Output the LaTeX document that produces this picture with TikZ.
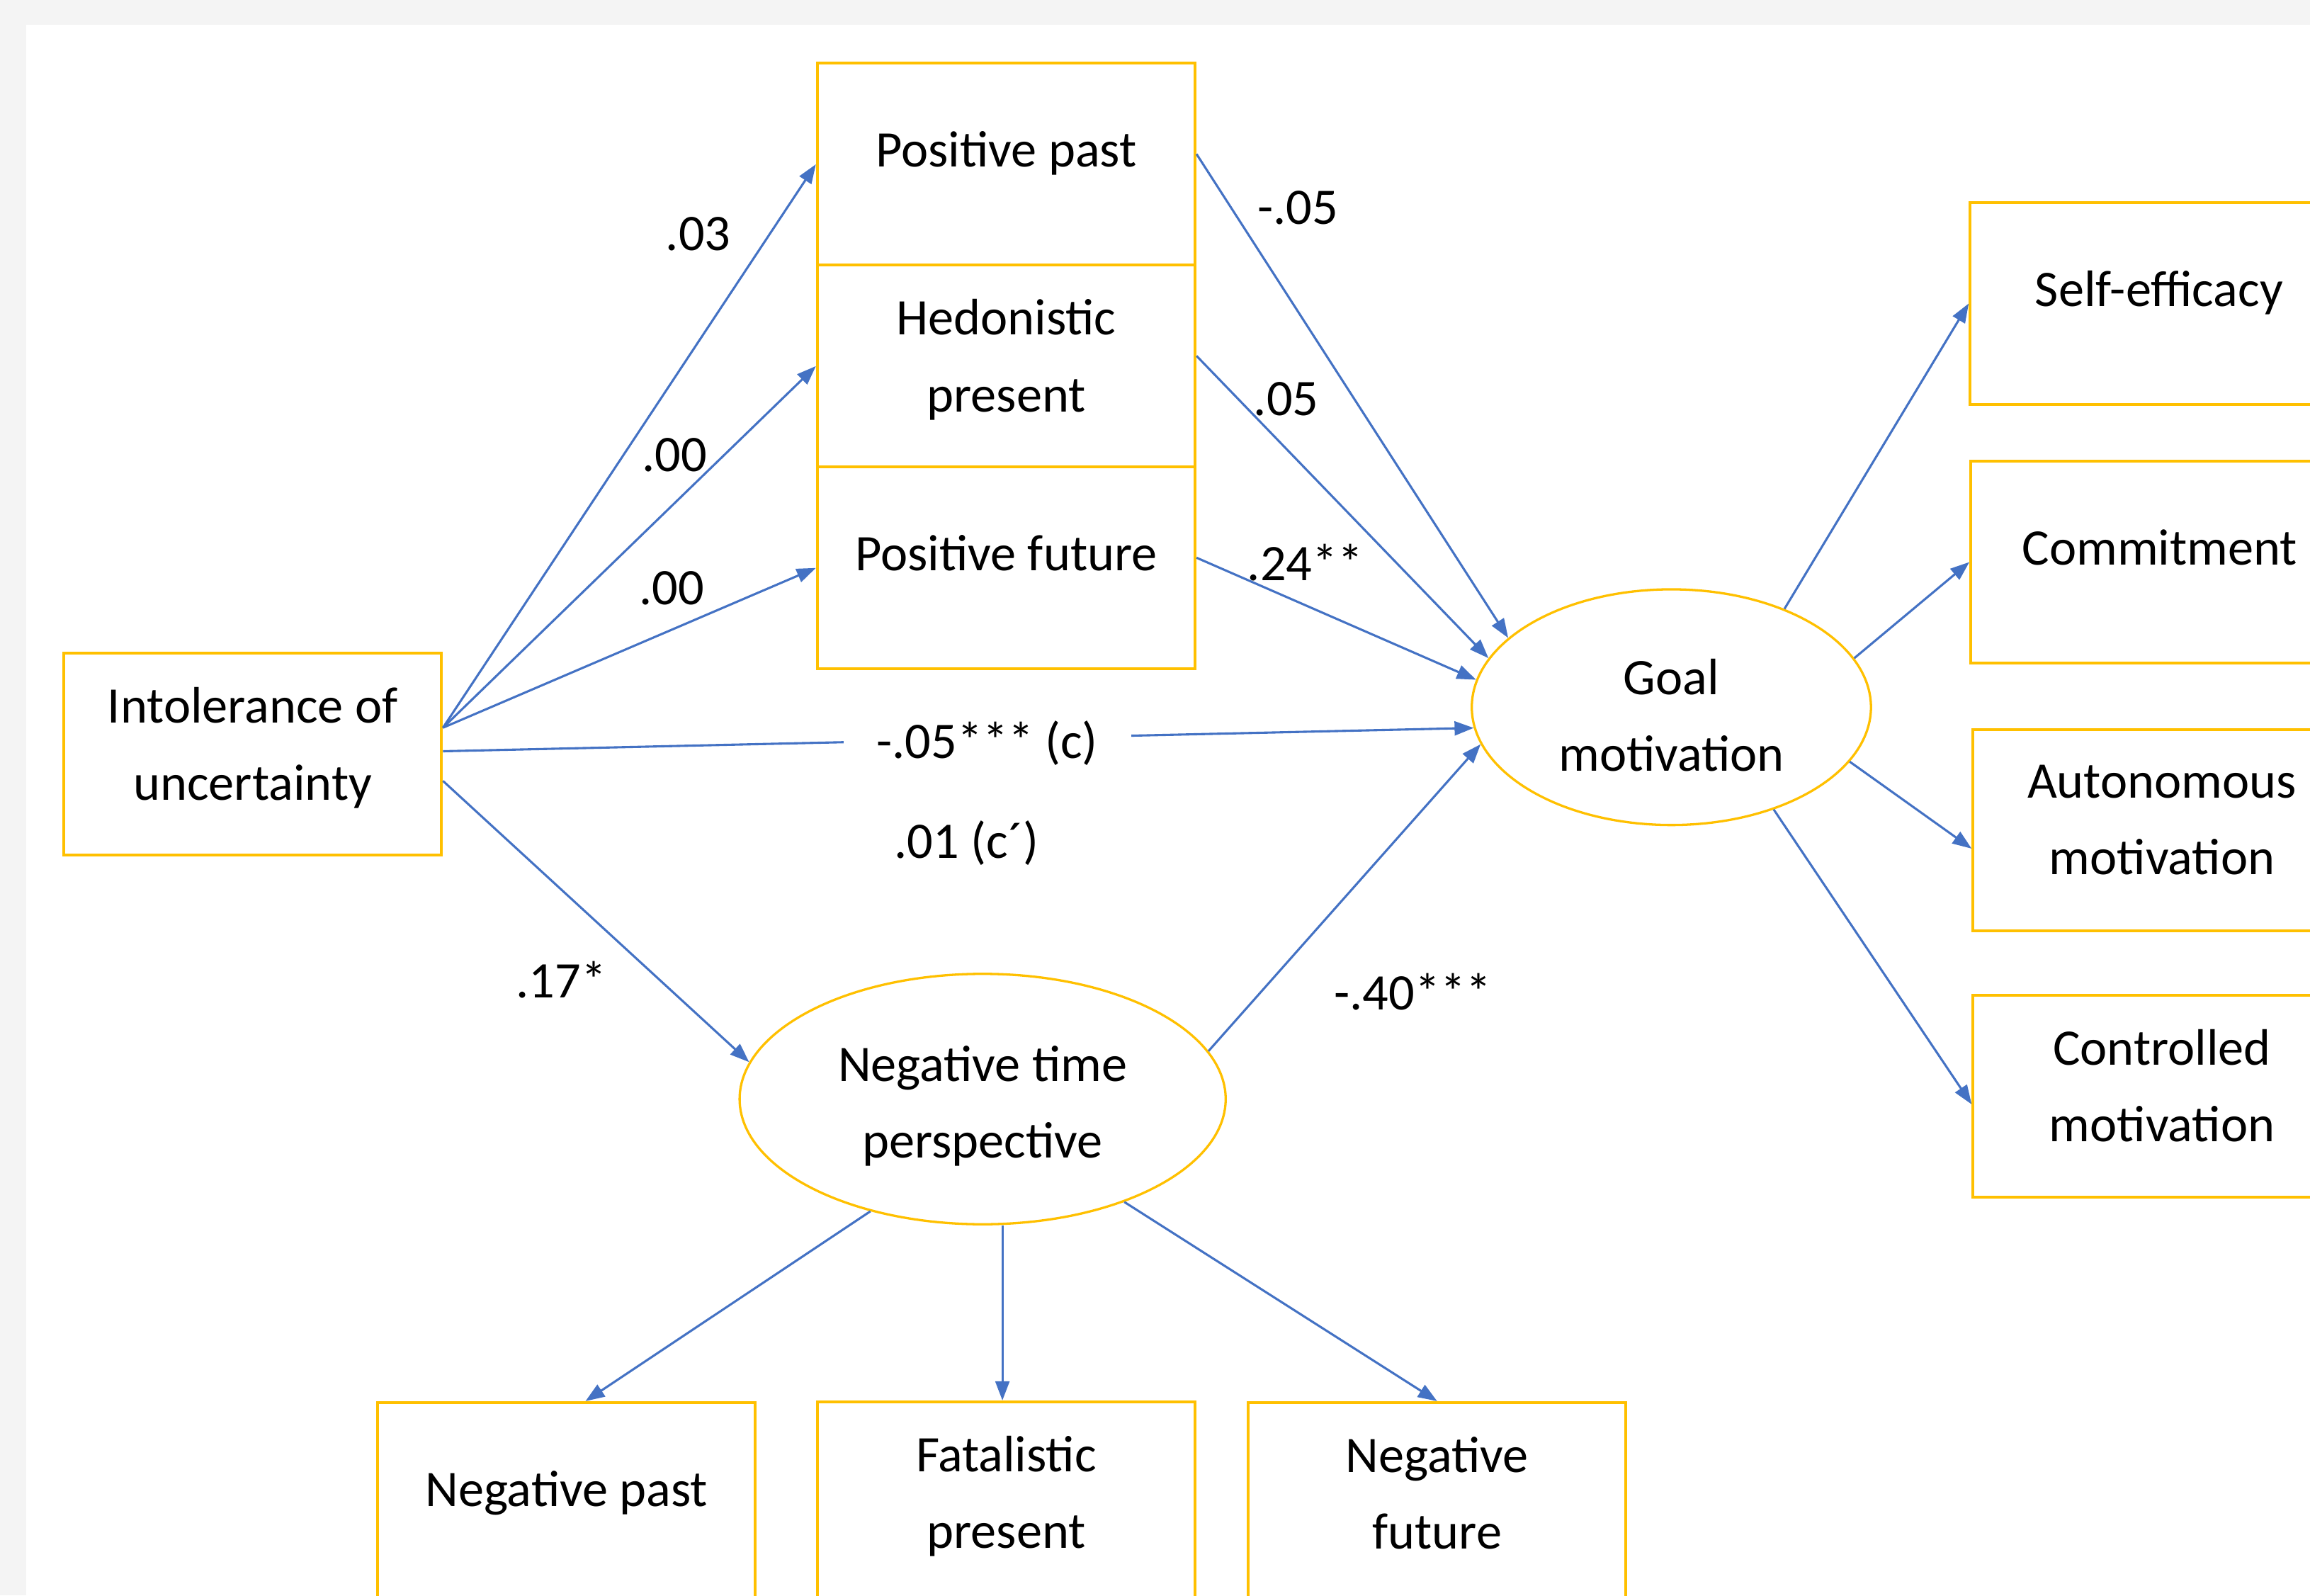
\documentclass[tikz,border=0pt]{standalone}
\usepackage{fontspec}
\setmainfont{Carlito}
\usetikzlibrary{arrows.meta,shapes.geometric,calc}
\definecolor{boxc}{HTML}{FFC000}
\definecolor{arrc}{HTML}{4472C4}
\definecolor{bgc}{HTML}{F4F4F4}
\begin{document}
\begin{tikzpicture}[x=0.02cm,y=-0.02cm,
  every node/.style={font=\fontsize{19.8pt}{29.6pt}\selectfont, text=black},
  box/.style={draw=boxc, line width=1.1pt, fill=white, minimum width=5.13cm, minimum height=2.74cm, align=center, inner sep=0pt, text depth=11.6pt},
  box2/.style={box, text depth=8.2pt},
  lat/.style={ellipse, draw=boxc, line width=0.9pt, fill=white, align=center, inner sep=0pt},
  arr/.style={draw=arrc, line width=0.85pt, -{Triangle[length=0.26cm,width=0.19cm]}}
]
\fill[bgc] (0,0) rectangle (1568,1083);
\fill[white] (18,17) rectangle (1568,1083);
\useasboundingbox (0,0) rectangle (1568,1083);

\node[box] (PP) at (683,111.5) {Positive past};
\node[box2] (HP) at (683,248.5) {Hedonistic\\present};
\node[box] (PF) at (683,385.5) {Positive future};
\node[box2] (IU) at (171.5,512) {Intolerance of\\uncertainty};
\node[lat, minimum width=5.42cm, minimum height=3.2cm, text height=49.5pt, text depth=0pt] (GM) at (1134.5,480) {Goal\\motivation};
\node[lat, minimum width=6.6cm, minimum height=3.4cm, text height=45.5pt, text depth=0pt] (NT) at (667,746) {Negative time\\perspective};
\node[box] (SE) at (1465.5,206) {Self-efficacy};
\node[box] (CM) at (1466,381.5) {Commitment};
\node[box2] (AM) at (1467.5,563.5) {Autonomous\\motivation};
\node[box2] (CO) at (1467.5,744) {Controlled\\motivation};
\node[box] (NP) at (384.5,1020.5) {Negative past};
\node[box2] (FP) at (683,1020) {Fatalistic\\present};
\node[box2] (NF) at (975.5,1020.5) {Negative\\future};

\coordinate (fpn) at ($(FP.north west)!0.49!(FP.north east)$);

\draw[arr] ($(IU.north east)!0.37!(IU.south east)$) -- (PP.west);
\draw[arr] ($(IU.north east)!0.37!(IU.south east)$) -- (HP.west);
\draw[arr] ($(IU.north east)!0.37!(IU.south east)$) -- (PF.west);
\draw[arr] ($(IU.north east)!0.485!(IU.south east)$) -- (GM.186.6) node[pos=0.528, fill=white, inner xsep=0.45cm, inner ysep=2pt, yshift=-0.06cm] (lc) {-.05*** (c)};
\draw[arr] ($(IU.north east)!0.63!(IU.south east)$) -- (NT.171.6);
\draw[arr] (NT.12.1) -- (GM.191.2);
\draw[arr] ($(PP.north east)!0.45!(PP.south east)$) -- (GM.157.8);
\draw[arr] ($(HP.north east)!0.45!(HP.south east)$) -- (GM.165.8);
\draw[arr] ($(PF.north east)!0.45!(PF.south east)$) -- (GM.172.4);
\draw[arr] (GM.41.7) -- (SE.west);
\draw[arr] (GM.15.2) -- (CM.west);
\draw[arr] (GM.-17.9) -- ($(AM.north west)!0.59!(AM.south west)$);
\draw[arr] (GM.-45.6) -- ($(CO.north west)!0.54!(CO.south west)$);
\draw[arr] (NT.225) -- ($(NP.north west)!0.55!(NP.north east)$);
\draw[arr] (fpn |- NT.south) -- (fpn);
\draw[arr] (NT.-36) -- (NF.north);

\node (l1) at (474,159) {.03};
\node (l2) at (458,309) {.00};
\node (l3) at (456,399) {.00};
\node (l4) at (881,141) {-.05};
\node (l5) at (873,271) {.05};
\node (l6) at (886,382) {.24**};
\node (l7) at (656,572) {.01 (c´)};
\node (l8) at (381,665) {.17*};
\node (l9) at (959,673) {-.40***};
\end{tikzpicture}
\end{document}
